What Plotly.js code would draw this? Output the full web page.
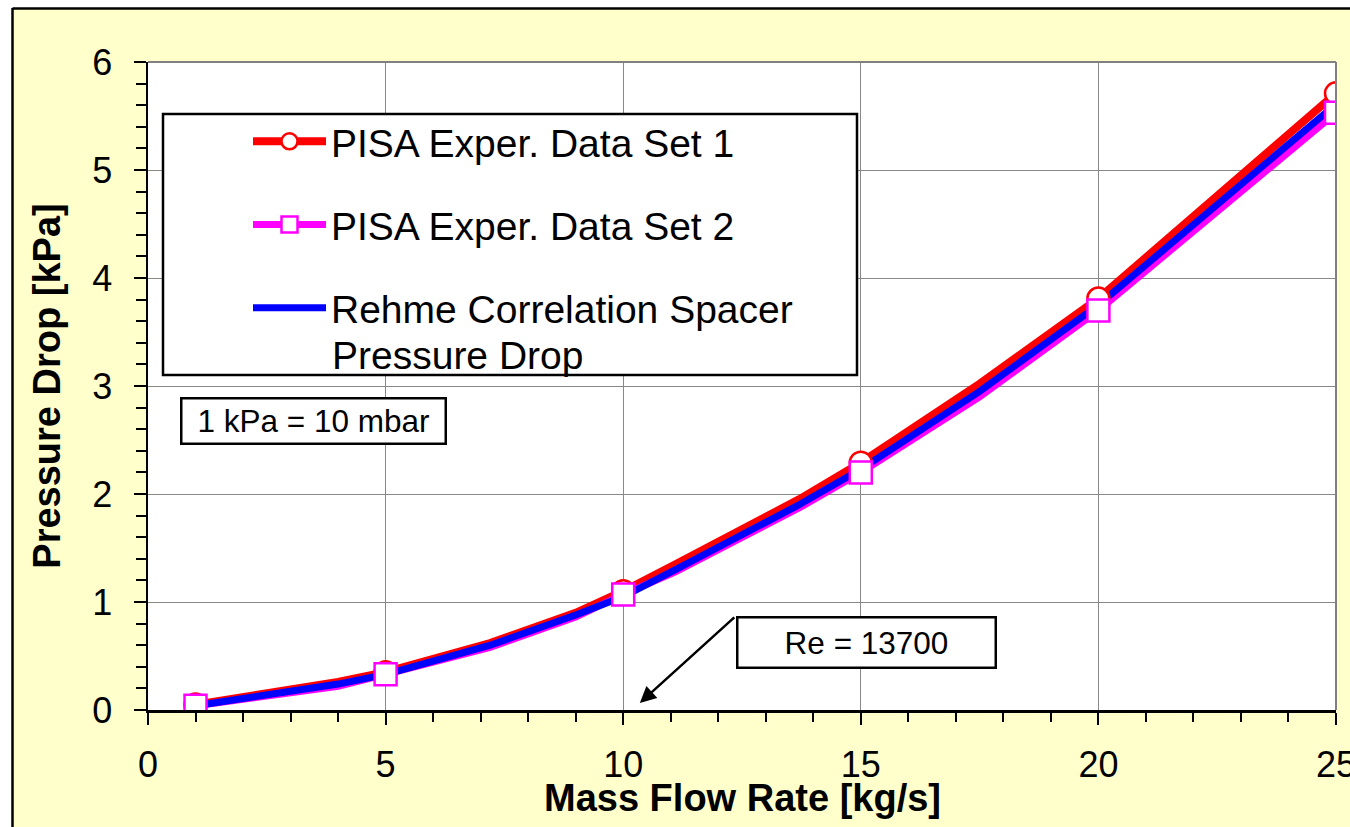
<!DOCTYPE html>
<html>
<head>
<meta charset="utf-8">
<script src="https://cdn.plot.ly/plotly-3.0.1.min.js"></script>
<style>
  html, body { margin: 0; padding: 0; background: #ffffff; }
  #chart { width: 1350px; height: 827px; }
</style>
</head>
<body>
<div id="chart"></div>
<script>
// ---- data ----
// measured points (markers)
const markerX   = [1, 5, 10, 15, 20, 25];
const set1Y     = [0.05, 0.35, 1.10, 2.29, 3.81, 5.71];
const set2Y     = [0.04, 0.33, 1.07, 2.20, 3.70, 5.53];
// curves as drawn (with their visible kinks)
const curveX    = [1, 4, 5, 7.2, 9, 10, 11.1, 13.7, 15, 17.5, 20, 25];
const set1Line  = [0.05, 0.26, 0.35, 0.62, 0.90, 1.10, 1.35, 1.95, 2.29, 3.02, 3.81, 5.71];
const set2Line  = [0.04, 0.22, 0.33, 0.58, 0.86, 1.07, 1.28, 1.87, 2.20, 2.90, 3.70, 5.53];
const rehmeY    = [0.04, 0.24, 0.33, 0.60, 0.88, 1.05, 1.30, 1.90, 2.23, 2.95, 3.75, 5.61];
const seriesNames = ['PISA Exper. Data Set 1', 'PISA Exper. Data Set 2', 'Rehme Correlation Spacer'];
const seriesName3Line2 = 'Pressure Drop';
const xTitle = 'Mass Flow Rate [kg/s]';
const yTitle = 'Pressure Drop [kPa]';
const noteUnits = '1 kPa = 10 mbar';
const noteRe = 'Re = 13700';

const FONT = 'Liberation Sans, Arial, sans-serif';
const RED = '#FF0000', MAG = '#FF00FF', BLUE = '#0000FF';

const redMarker = { symbol: 'circle', size: 22, color: '#ffffff', line: { color: RED, width: 2.5 } };
const magMarker = { symbol: 'square', size: 22, color: '#ffffff', line: { color: MAG, width: 2.5 } };

const traces = [
  // curves
  { x: curveX, y: set1Line, mode: 'lines', showlegend: false, line: { color: RED, width: 8 } },
  { x: curveX, y: set2Line, mode: 'lines', showlegend: false, line: { color: MAG, width: 7 } },
  { x: curveX, y: rehmeY, mode: 'lines', showlegend: false, line: { color: BLUE, width: 7 } },
  // measured markers on top
  { x: markerX, y: set1Y, mode: 'markers', showlegend: false, marker: redMarker },
  { x: markerX, y: set2Y, mode: 'markers', showlegend: false, marker: magMarker },
  // legend entries
  { x: [null], y: [null], name: seriesNames[0], legendgroup: 'a', mode: 'lines+markers',
    line: { color: RED, width: 8 }, marker: redMarker },
  { x: [null], y: [null], name: seriesNames[1], legendgroup: 'b', mode: 'lines+markers',
    line: { color: MAG, width: 7 }, marker: magMarker },
  { x: [null], y: [null], name: seriesNames[2], legendgroup: 'c', mode: 'lines',
    line: { color: BLUE, width: 7 } }
];

// pixel -> paper helpers for frame decoration
const L = 148, R = 1336, T = 62, B = 710;
const px = v => (v - L) / (R - L);
const py = v => (B - v) / (B - T);

const layout = {
  width: 1350, height: 827,
  margin: { l: L, r: 1350 - R, t: T, b: 827 - B, pad: 0 },
  paper_bgcolor: '#FFFFCC',
  plot_bgcolor: '#ffffff',
  font: { family: FONT, color: '#000000', size: 36 },
  showlegend: true,
  legend: {
    x: px(163), y: py(109.5), xanchor: 'left', yanchor: 'top',
    bgcolor: 'rgba(0,0,0,0)', borderwidth: 0,
    font: { family: FONT, size: 39, color: '#000000' },
    itemwidth: 73, indentation: 85, tracegroupgap: 29.5, valign: 'top',
    traceorder: 'grouped'
  },
  xaxis: {
    range: [0, 25], dtick: 5, tick0: 0,
    showgrid: true, gridcolor: '#888888', gridwidth: 1,
    zeroline: false,
    showline: true, linecolor: '#000000', linewidth: 2.5,
    ticks: 'outside', ticklen: 12, tickwidth: 2, tickcolor: '#000000',
    ticklabelstandoff: 9, ticklabeloverflow: 'allow',
    minor: { dtick: 1, ticks: 'outside', ticklen: 9, tickwidth: 2, tickcolor: '#000000', showgrid: false },
    tickfont: { family: FONT, size: 36 },
    fixedrange: true
  },
  yaxis: {
    range: [0, 6], dtick: 1, tick0: 0,
    showgrid: true, gridcolor: '#888888', gridwidth: 1,
    zeroline: false,
    showline: true, linecolor: '#000000', linewidth: 2.5,
    ticks: 'outside', ticklen: 12, tickwidth: 2, tickcolor: '#000000',
    ticklabelstandoff: 14, ticklabeloverflow: 'allow',
    minor: { dtick: 0.2, ticks: 'outside', ticklen: 10, tickwidth: 2, tickcolor: '#000000', showgrid: false },
    tickfont: { family: FONT, size: 36 },
    title: { text: '<b>' + yTitle + '</b>', font: { family: FONT, size: 38 }, standoff: 20 },
    fixedrange: true
  },
  shapes: [
    // white outside the frame (left strip and top strip)
    { type: 'rect', xref: 'paper', yref: 'paper', x0: -0.3, x1: px(12), y0: -0.5, y1: 1.5,
      fillcolor: '#ffffff', line: { width: 0 }, layer: 'above' },
    { type: 'rect', xref: 'paper', yref: 'paper', x0: -0.3, x1: 1.3, y0: py(8), y1: 1.5,
      fillcolor: '#ffffff', line: { width: 0 }, layer: 'above' },
    // frame lines
    { type: 'line', xref: 'paper', yref: 'paper', x0: px(12.5), x1: px(12.5), y0: -0.5, y1: py(8),
      line: { color: '#000000', width: 2.5 }, layer: 'above' },
    { type: 'line', xref: 'paper', yref: 'paper', x0: px(12.5), x1: 1.3, y0: py(8.5), y1: py(8.5),
      line: { color: '#000000', width: 2.5 }, layer: 'above' },
    // gray top/right plot border
    { type: 'line', xref: 'paper', yref: 'paper', x0: 0, x1: 1, y0: 1, y1: 1,
      line: { color: '#808080', width: 2 }, layer: 'above' },
    { type: 'line', xref: 'paper', yref: 'paper', x0: 1, x1: 1, y0: 0, y1: 1,
      line: { color: '#808080', width: 2 }, layer: 'above' },
    // legend box
    { type: 'rect', xref: 'paper', yref: 'paper', x0: px(163), x1: px(857), y0: py(375), y1: py(114),
      fillcolor: '#ffffff', line: { color: '#000000', width: 2.5 }, layer: 'above' }
  ],
  annotations: [
    // second line of the third legend label
    { x: px(330), y: py(355), xref: 'paper', yref: 'paper', text: seriesName3Line2, showarrow: false,
      font: { family: FONT, size: 39, color: '#000000' }, xanchor: 'left', yanchor: 'middle' },
    // x axis title
    { x: 0.5, y: py(798), xref: 'paper', yref: 'paper', text: '<b>' + xTitle + '</b>', showarrow: false,
      font: { family: FONT, size: 38, color: '#000000' }, xanchor: 'center', yanchor: 'middle' },
    { x: 3.49, y: 2.68, xref: 'x', yref: 'y', text: noteUnits, showarrow: false,
      font: { family: FONT, size: 31.5, color: '#000000' },
      bgcolor: '#ffffff', bordercolor: '#000000', borderwidth: 2.5, borderpad: 0,
      width: 262, height: 43, xanchor: 'center', yanchor: 'middle' },
    { x: 15.12, y: 0.625, xref: 'x', yref: 'y', text: noteRe, showarrow: false,
      font: { family: FONT, size: 31.5, color: '#000000' },
      bgcolor: '#ffffff', bordercolor: '#000000', borderwidth: 2.5, borderpad: 0,
      width: 256, height: 48, xanchor: 'center', yanchor: 'middle' },
    { x: 10.35, y: 0.065, xref: 'x', yref: 'y', ax: 12.37, ay: 0.87, axref: 'x', ayref: 'y',
      text: '', showarrow: true, arrowhead: 2, arrowsize: 1.3, arrowwidth: 2.5, arrowcolor: '#000000' }
  ]
};

Plotly.newPlot('chart', traces, layout, { displayModeBar: false, staticPlot: true });
</script>
</body>
</html>
